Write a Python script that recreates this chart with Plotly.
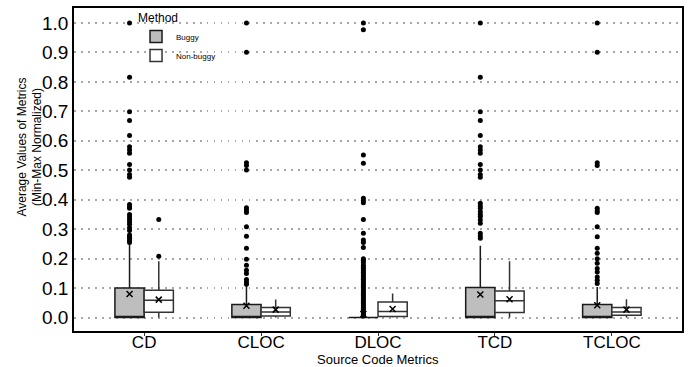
import plotly.graph_objects as go

categories = ["CD", "CLOC", "DLOC", "TCD", "TCLOC"]
methods = ["Buggy", "Non-buggy"]

# box statistics per category
buggy_q1 = [0.0, 0.0, 0.0, 0.0, 0.0]
buggy_median = [0.0, 0.0, 0.0, 0.0, 0.0]
buggy_q3 = [0.100, 0.044, 0.0, 0.102, 0.044]
buggy_lower = [0.0, 0.0, 0.0, 0.0, 0.0]
buggy_upper = [0.246, 0.108, 0.0, 0.244, 0.104]
buggy_mean = [0.080, 0.040, 0.012, 0.078, 0.042]

nonbuggy_q1 = [0.018, 0.005, 0.004, 0.017, 0.008]
nonbuggy_median = [0.059, 0.019, 0.021, 0.057, 0.019]
nonbuggy_q3 = [0.093, 0.034, 0.053, 0.090, 0.034]
nonbuggy_lower = [0.0, 0.0, 0.0, 0.0, 0.0]
nonbuggy_upper = [0.191, 0.061, 0.082, 0.191, 0.062]
nonbuggy_mean = [0.061, 0.027, 0.029, 0.062, 0.027]

# outliers
cd_buggy_out = [1.0, 0.816, 0.699, 0.669, 0.618, 0.580, 0.569, 0.558, 0.520, 0.501,
                0.486, 0.476, 0.384, 0.376, 0.371, 0.350, 0.342, 0.334, 0.325, 0.317,
                0.305, 0.296, 0.280, 0.274, 0.269, 0.262, 0.255]
cd_nonbuggy_out = [0.333, 0.208]
cloc_buggy_out = [1.0, 0.901, 0.526, 0.516, 0.501, 0.373, 0.365, 0.357, 0.308, 0.276,
                  0.235, 0.198, 0.178, 0.161, 0.150, 0.129, 0.121, 0.113]
cloc_nonbuggy_out = []
dloc_buggy_out = [1.0, 0.977, 0.552, 0.524, 0.405, 0.397, 0.390, 0.333, 0.286, 0.263,
                  0.255, 0.238, 0.200, 0.195, 0.187, 0.178, 0.172, 0.166, 0.160, 0.154,
                  0.148, 0.142, 0.136, 0.130, 0.124, 0.118, 0.112, 0.106, 0.100, 0.094,
                  0.088, 0.082, 0.076, 0.070, 0.064, 0.058, 0.052, 0.046, 0.040, 0.034,
                  0.028, 0.022, 0.016, 0.010, 0.005]
dloc_nonbuggy_out = []
tcd_buggy_out = [1.0, 0.816, 0.699, 0.669, 0.618, 0.580, 0.569, 0.558, 0.520, 0.501,
                 0.486, 0.476, 0.388, 0.379, 0.371, 0.359, 0.350, 0.342, 0.331, 0.320,
                 0.286, 0.277, 0.269]
tcd_nonbuggy_out = []
tcloc_buggy_out = [1.0, 0.901, 0.526, 0.516, 0.371, 0.363, 0.357, 0.308, 0.274, 0.235,
                   0.218, 0.200, 0.184, 0.167, 0.155, 0.138, 0.127, 0.116]
tcloc_nonbuggy_out = []

yticks = [0.0, 0.1, 0.2, 0.3, 0.4, 0.5, 0.6, 0.7, 0.8, 0.9, 1.0]
ytick_labels = ["0.0", "0.1", "0.2", "0.3", "0.4", "0.5", "0.6", "0.7", "0.8", "0.9", "1.0"]

buggy_outliers = [cd_buggy_out, cloc_buggy_out, dloc_buggy_out, tcd_buggy_out, tcloc_buggy_out]
nonbuggy_outliers = [cd_nonbuggy_out, cloc_nonbuggy_out, dloc_nonbuggy_out,
                     tcd_nonbuggy_out, tcloc_nonbuggy_out]

FONT = "Liberation Sans, Arial, Helvetica, sans-serif"

fig = go.Figure()

styles = {
    "Buggy": dict(fill="#bebebe", line="#1a1a1a"),
    "Non-buggy": dict(fill="#ffffff", line="#333333"),
}

stats = {
    "Buggy": (buggy_q1, buggy_median, buggy_q3, buggy_lower, buggy_upper, buggy_mean, buggy_outliers),
    "Non-buggy": (nonbuggy_q1, nonbuggy_median, nonbuggy_q3, nonbuggy_lower, nonbuggy_upper,
                  nonbuggy_mean, nonbuggy_outliers),
}

for m in methods:
    q1, med, q3, lo, hi, mean, outs = stats[m]
    fig.add_trace(go.Box(
        x=categories, q1=q1, median=med, q3=q3, lowerfence=lo, upperfence=hi,
        name=m, offsetgroup=m, boxpoints=False, whiskerwidth=0,
        fillcolor=styles[m]["fill"], line=dict(color=styles[m]["line"], width=1.5),
        showlegend=True,
    ))

for m in methods:
    q1, med, q3, lo, hi, mean, outs = stats[m]
    ox, oy = [], []
    for c, vals in zip(categories, outs):
        for v in vals:
            ox.append(c)
            oy.append(v)
    fig.add_trace(go.Scatter(
        x=ox, y=oy, mode="markers", offsetgroup=m, showlegend=False,
        marker=dict(color="black", size=5), hoverinfo="skip",
    ))
    fig.add_trace(go.Scatter(
        x=categories, y=mean, mode="markers", offsetgroup=m, showlegend=False,
        marker=dict(symbol="x-thin", size=6, color="black", line=dict(width=1.5, color="black")),
    ))

fig.update_layout(
    width=698, height=367,
    margin=dict(l=74, r=16, t=8, b=36, autoexpand=False),
    paper_bgcolor="white", plot_bgcolor="white",
    boxmode="group", boxgap=0.5, boxgroupgap=0,
    scattermode="group", scattergap=0.5,
    font=dict(family=FONT, color="black"),
    legend=dict(
        title=dict(text="Method", font=dict(size=12)),
        font=dict(size=8), x=0.102, y=1.005, xanchor="left", yanchor="top",
        bgcolor="rgba(0,0,0,0)", tracegroupgap=2,
    ),
    annotations=[
        dict(text="Source Code Metrics", xref="paper", yref="paper", x=0.5, y=-0.088,
             xanchor="center", yanchor="middle", showarrow=False, font=dict(size=13)),
        dict(text="Average Values of Metrics<br>(Min-Max Normalized)", xref="paper", yref="paper",
             x=-0.073, y=0.57, xanchor="center", yanchor="middle", textangle=-90,
             showarrow=False, font=dict(size=12)),
    ],
)

fig.update_xaxes(
    type="category", categoryorder="array", categoryarray=categories,
    range=[-0.6, 4.6], showgrid=False, zeroline=False, automargin=False,
    showline=True, linecolor="black", linewidth=1.5, mirror=True,
    ticks="outside", ticklen=3, tickcolor="#333333", ticklabelstandoff=-8,
    tickfont=dict(size=17, family=FONT),
)
fig.update_yaxes(
    range=[-0.0456, 1.051], tickvals=yticks, ticktext=ytick_labels,
    showgrid=True, gridcolor="#a8a8a8", griddash="1.5px,5.5px", gridwidth=1.5,
    zeroline=False, showline=True, linecolor="black", linewidth=1.5, mirror=True,
    ticks="", tickfont=dict(size=19, family=FONT), automargin=False,
)

fig.write_html(
    "out.html",
    config={"displayModeBar": False},
    post_script="document.body.style.margin='0';document.body.style.padding='0';",
)
